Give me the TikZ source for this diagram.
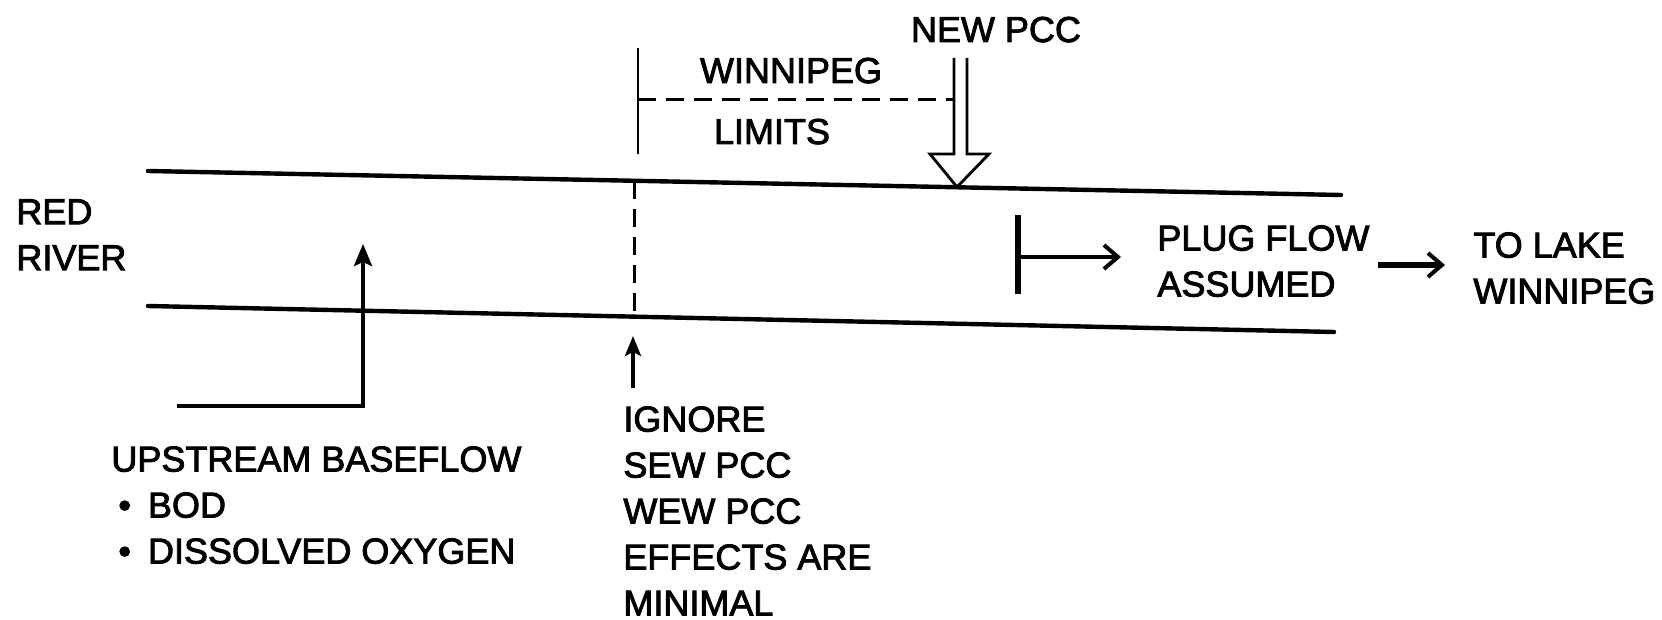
\documentclass[tikz,border=0pt]{standalone}
\usepackage{fontspec}
\setmainfont{Liberation Sans}[FakeBold=2.4]
\usetikzlibrary{arrows.meta}

\tikzset{
  label/.style={inner sep=0pt, font=\fontsize{18}{23}\selectfont, align=left},
  bank/.style={line width=2.2pt, line cap=round},
  flowarrow/.style={line width=2pt, -{Straight Barb[length=7pt,width=12pt,line width=2pt]}},
  dashline/.style={line width=1.5pt, dash pattern=on 9pt off 5pt}
}

\begin{document}
\begin{tikzpicture}[x=0.5pt,y=-0.5pt]
  \useasboundingbox (0,0) rectangle (1662,620);

  % Nodes
  \node[label, anchor=base] (newpcc) at (996,42) {NEW PCC};
  \node[label, anchor=base] (winnipeg) at (791,83) {WINNIPEG};
  \node[label, anchor=base] (limits) at (772,144) {LIMITS};
  \node[label, anchor=north west] (redriver) at (16,199) {RED\\RIVER};
  \node[label, anchor=north west] (upstream) at (111,446)
    {UPSTREAM BASEFLOW\\\hspace*{3.5pt}\textbullet\hspace{8.5pt}BOD\\\hspace*{3.5pt}\textbullet\hspace{8.5pt}DISSOLVED OXYGEN};
  \node[label, anchor=north west] (ignore) at (623,406)
    {IGNORE\\SEW PCC\\WEW PCC\\EFFECTS ARE\\MINIMAL};
  \node[label, anchor=north west] (plug) at (1157,225) {PLUG FLOW\\ASSUMED};
  \node[label, anchor=north west] (lake) at (1473,232) {TO LAKE\\WINNIPEG};

  % Coordinates
  \coordinate (tl) at (148,171);
  \coordinate (tr) at (1341,195);
  \coordinate (bl) at (148,306);
  \coordinate (br) at (1334,332);
  \coordinate (cutt) at (634,181);
  \coordinate (cutb) at (634,317);
  \coordinate (limt) at (638,48);
  \coordinate (limb) at (638,154);
  \coordinate (lima) at (638,100);
  \coordinate (limz) at (953,100);
  \coordinate (pcctip) at (957,187);
  \coordinate (upstart) at (177,406);
  \coordinate (uptip) at (363,244);
  \coordinate (igntail) at (633,388);
  \coordinate (ignhead) at (633,336);
  \coordinate (bart) at (1018,215);
  \coordinate (barb) at (1018,294);
  \coordinate (barm) at (1018,257);
  \coordinate (plughead) at (1121,257);
  \coordinate (laketail) at (1378,265);
  \coordinate (lakehead) at (1445,265);

  % Edges
  \draw[bank] (tl) -- (tr);
  \draw[bank] (bl) -- (br);
  \draw[dashline] (cutt) -- (cutb);
  \draw[line width=1.3pt] (limt) -- (limb);
  \draw[dashline] (lima) -- (limz);
  \draw[line width=1.4pt, fill=white, line join=miter]
    (pcctip) ++(-3,-129) -- ++(0,96) -- ++(-24,0) -- (pcctip)
    -- ++(32,-33) -- ++(-22,0) -- ++(0,-96);
  \draw[line width=2pt, -{Stealth[length=11pt,width=9pt,inset=2pt]}] (upstart) -| (uptip);
  \draw[line width=1.6pt, -{Stealth[length=10pt,width=8pt,inset=2pt]}] (igntail) -- (ignhead);
  \draw[line width=3pt] (bart) -- (barb);
  \draw[flowarrow] (barm) -- (plughead);
  \draw[flowarrow, line width=2.8pt] (laketail) -- (lakehead);
\end{tikzpicture}
\end{document}
